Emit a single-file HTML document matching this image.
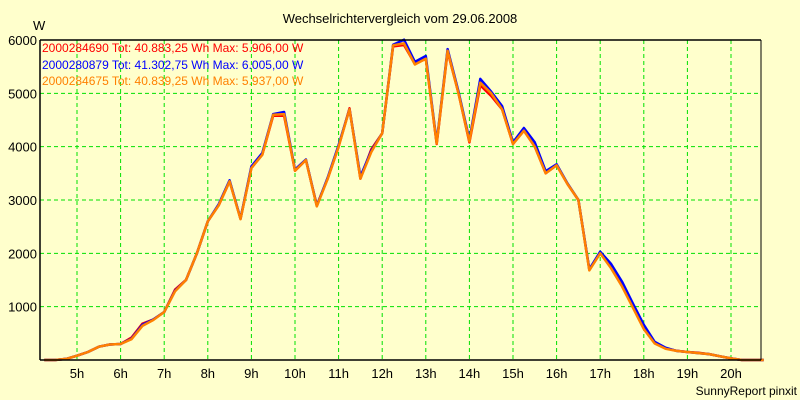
<!DOCTYPE html>
<html><head><meta charset="utf-8"><style>
body{margin:0;background:#ffffcc;}
svg{display:block;font-family:"Liberation Sans",Arial,sans-serif;font-size:12px;}
</style></head><body>
<svg width="800" height="400" viewBox="0 0 800 400">
<rect x="0" y="0" width="800" height="400" fill="#ffffcc"/>
<text x="400" y="23" text-anchor="middle" font-size="13">Wechselrichtervergleich vom 29.06.2008</text>
<text x="33" y="30" font-size="13">W</text>
<g id="grid"></g>
<g id="ylabels"></g>
<g id="xlabels"></g>
<g id="series"></g>
<line x1="40" y1="40" x2="761" y2="40" stroke="#000" stroke-width="1.5"/>
<line x1="40" y1="40" x2="40" y2="360" stroke="#000" stroke-width="1.5"/>
<line x1="40" y1="360" x2="761" y2="360" stroke="#000" stroke-width="1.5"/>
<line x1="761" y1="40" x2="761" y2="360" stroke="#000" stroke-width="1"/>
<text x="42" y="52" fill="#ff0000">2000284690 Tot: 40.883,25 Wh Max: 5.906,00 W</text>
<text x="42" y="69" fill="#0000ff">2000280879 Tot: 41.302,75 Wh Max: 6.005,00 W</text>
<text x="42" y="85" fill="#ff8000">2000284675 Tot: 40.839,25 Wh Max: 5.937,00 W</text>
<text x="797" y="395" text-anchor="end">SunnyReport pinxit</text>
</svg>
<script>
const yTicks=[1000,2000,3000,4000,5000,6000];
const xTicks=[5,6,7,8,9,10,11,12,13,14,15,16,17,18,19,20];
const times=[4.25,4.5,4.75,5,5.25,5.5,5.75,6,6.25,6.5,6.75,7,7.25,7.5,7.75,8,8.25,8.5,8.75,9,9.25,9.5,9.75,10,10.25,10.5,10.75,11,11.25,11.5,11.75,12,12.25,12.5,12.75,13,13.25,13.5,13.75,14,14.25,14.5,14.75,15,15.25,15.5,15.75,16,16.25,16.5,16.75,17,17.25,17.5,17.75,18,18.25,18.5,18.75,19,19.25,19.5,19.75,20,20.25,20.5,20.75];
const red=[0,0,20,80,150,250,290,300,420,680,760,900,1320,1500,2000,2600,2900,3350,2650,3600,3850,4580,4580,3550,3750,2900,3400,4000,4720,3400,3950,4250,5880,5906,5550,5650,4050,5780,5000,4080,5150,4950,4700,4050,4300,4000,3500,3650,3300,3000,1700,2000,1750,1400,1000,600,320,220,175,150,135,110,70,30,0,0,0];
const blue=[0,0,20,80,150,250,290,300,400,660,760,900,1300,1500,2000,2600,2920,3370,2650,3630,3880,4610,4650,3570,3760,2890,3420,4030,4700,3440,3920,4250,5910,6005,5590,5700,4080,5830,5030,4130,5270,5030,4760,4080,4350,4080,3540,3670,3310,3000,1700,2030,1800,1470,1060,660,340,230,170,150,130,110,70,30,0,0,0];
const orange=[0,0,20,80,150,250,290,300,390,640,750,900,1290,1500,2000,2600,2900,3350,2640,3600,3850,4600,4610,3550,3750,2880,3400,4000,4700,3400,3900,4250,5900,5937,5540,5650,4060,5800,5000,4100,5200,5000,4700,4050,4300,4000,3500,3650,3300,3000,1680,2000,1720,1380,980,580,310,210,170,150,130,110,70,30,0,0,0];
const NS="http://www.w3.org/2000/svg";
const X=h=>77+(h-5)*43.6;
const Y=v=>360-v*320/6000;
function mk(tag,attrs,parent){const e=document.createElementNS(NS,tag);for(const k in attrs)e.setAttribute(k,attrs[k]);parent.appendChild(e);return e;}
const grid=document.getElementById('grid'),yl=document.getElementById('ylabels'),xl=document.getElementById('xlabels'),ser=document.getElementById('series');
yTicks.forEach(v=>{
  if(v<6000){const l=mk('line',{x1:40,x2:761,y1:Y(v),y2:Y(v),stroke:'#00e000','stroke-dasharray':'4,3'},grid);
  
  }
  const t=mk('text',{x:37,y:Y(v)+5,'text-anchor':'end','font-size':'13'},yl);t.textContent=v;
  
  
});
xTicks.forEach(h=>{
  const l=mk('line',{x1:X(h),x2:X(h),y1:40,y2:360,stroke:'#00e000','stroke-dasharray':'4,3'},grid);
  
  
  const t=mk('text',{x:X(h),y:378,'text-anchor':'middle','font-size':'13'},xl);t.textContent=h+'h';
  
  
});
[[red,'#ff0000','series-red'],[blue,'#0000ff','series-blue'],[orange,'#ff8000','series-orange']].forEach(([d,c,n])=>{
  const pts=d.map((v,i)=>X(times[i]).toFixed(1)+','+Y(v).toFixed(1)).join(' ');
  const p=mk('polyline',{points:pts,fill:'none',stroke:c,'stroke-width':2.5,'stroke-linejoin':'round'},ser);
  
  
});
</script>
</body></html>
